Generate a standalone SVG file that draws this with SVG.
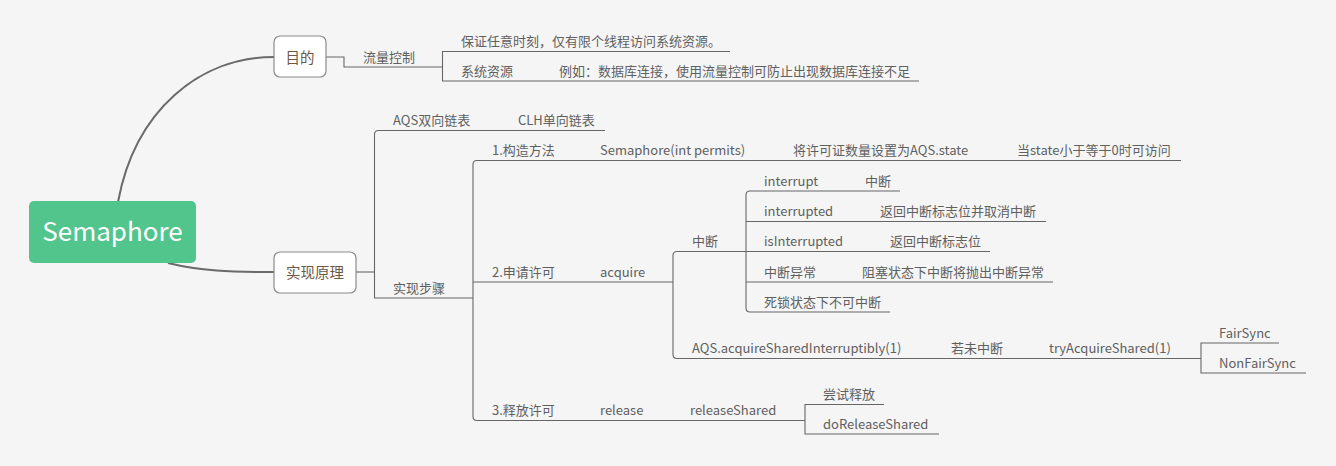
<svg xmlns="http://www.w3.org/2000/svg" width="1336" height="466" viewBox="0 0 1336 466">
<style>
.t{font-family:"Noto Sans CJK SC","Noto Sans",sans-serif;font-size:13px;fill:#606060}
.b{font-family:"Noto Sans CJK SC","Noto Sans",sans-serif;font-size:14.5px;fill:#6e5743;text-anchor:middle}
.ln{fill:none;stroke:#666;stroke-width:1.1}
.cv{fill:none;stroke:#6a6a6a;stroke-width:2}
.box{fill:#fff;stroke:#8a8a8a;stroke-width:1.2}
</style>
<rect width="1336" height="466" fill="#f5f5f5"/>
<g id="connectors">
<path class="cv" d="M118,202 C135,110 200,57 274,57"/>
<path class="cv" d="M168,263 C200,271 230,272 274,272"/>
<path class="ln" d="M326,57 H344 V67 H442.5"/>
<path class="ln" d="M730,51.5 H442.5 V81 H919"/>
<path class="ln" d="M356,272 H374.5"/>
<path class="ln" d="M605,130.5 H378.5 Q374.5,130.5 374.5,134.5 V298 H473"/>
<path class="ln" d="M1181,160.5 H477 Q473,160.5 473,164.5 V416.5 Q473,420.5 477,420.5 H805"/>
<path class="ln" d="M473,282 H673"/>
<path class="ln" d="M746,251.5 H677 Q673,251.5 673,255.5 V354.5 Q673,358.5 677,358.5 H1201"/>
<path class="ln" d="M900,191 H750 Q746,191 746,195 V308 Q746,312 750,312 H890"/>
<path class="ln" d="M746,221.5 H1046"/>
<path class="ln" d="M746,251.5 H990"/>
<path class="ln" d="M746,282 H1053"/>
<path class="ln" d="M1279,343 H1201 V373 H1306"/>
<path class="ln" d="M884,404.5 H805 V434 H939"/>
</g>
<g id="root">
<rect x="29" y="201" width="167" height="62" rx="5" fill="#52c58c"/>
<text x="112.5" y="241" font-family="'Noto Sans CJK SC','Noto Sans',sans-serif" font-size="26" fill="#fff" text-anchor="middle">Semaphore</text>
</g>
<g id="mudi">
<rect class="box" x="274" y="36" width="52" height="41" rx="6"/>
<text class="b" x="300" y="62.5">目的</text>
</g>
<g id="shixianyuanli">
<rect class="box" x="274" y="252" width="82" height="41" rx="6"/>
<text class="b" x="315" y="277.5">实现原理</text>
</g>
<g id="liuliang"><text class="t" x="363" y="62">流量控制</text></g>
<g id="baozheng"><text class="t" x="461" y="46">保证任意时刻，仅有限个线程访问系统资源。</text></g>
<g id="xitongziyuan"><text class="t" x="461" y="76">系统资源</text></g>
<g id="liru"><text class="t" x="559" y="76">例如：数据库连接，使用流量控制可防止出现数据库连接不足</text></g>
<g id="aqs"><text class="t" x="393" y="125">AQS双向链表</text></g>
<g id="clh"><text class="t" x="518" y="125">CLH单向链表</text></g>
<g id="buzhou"><text class="t" x="393" y="293">实现步骤</text></g>
<g id="gouzao"><text class="t" x="492" y="155">1.构造方法</text></g>
<g id="semctor"><text class="t" x="600" y="155">Semaphore(int permits)</text></g>
<g id="setstate"><text class="t" x="793" y="155">将许可证数量设置为AQS.state</text></g>
<g id="access"><text class="t" x="1017" y="155">当state小于等于0时可访问</text></g>
<g id="shenqing"><text class="t" x="492" y="277">2.申请许可</text></g>
<g id="acquire"><text class="t" x="600" y="277">acquire</text></g>
<g id="zhongduan"><text class="t" x="692" y="246">中断</text></g>
<g id="interrupt"><text class="t" x="764" y="186">interrupt</text></g>
<g id="interrupt-d"><text class="t" x="865" y="186">中断</text></g>
<g id="interrupted"><text class="t" x="764" y="216">interrupted</text></g>
<g id="interrupted-d"><text class="t" x="880" y="216">返回中断标志位并取消中断</text></g>
<g id="isinterrupted"><text class="t" x="764" y="246">isInterrupted</text></g>
<g id="isinterrupted-d"><text class="t" x="890" y="246">返回中断标志位</text></g>
<g id="zdyc"><text class="t" x="764" y="277">中断异常</text></g>
<g id="zdyc-d"><text class="t" x="862" y="277">阻塞状态下中断将抛出中断异常</text></g>
<g id="sisuo"><text class="t" x="764" y="307">死锁状态下不可中断</text></g>
<g id="aqsacq"><text class="t" x="692" y="353">AQS.acquireSharedInterruptibly(1)</text></g>
<g id="weizhongduan"><text class="t" x="951" y="353">若未中断</text></g>
<g id="tryacq"><text class="t" x="1049" y="353">tryAcquireShared(1)</text></g>
<g id="fair"><text class="t" x="1219" y="338">FairSync</text></g>
<g id="nonfair"><text class="t" x="1219" y="368">NonFairSync</text></g>
<g id="shifang"><text class="t" x="492" y="415">3.释放许可</text></g>
<g id="release"><text class="t" x="600" y="415">release</text></g>
<g id="releaseshared"><text class="t" x="690" y="415">releaseShared</text></g>
<g id="changshi"><text class="t" x="823" y="399">尝试释放</text></g>
<g id="doreleaseshared"><text class="t" x="823" y="429">doReleaseShared</text></g>
</svg>
